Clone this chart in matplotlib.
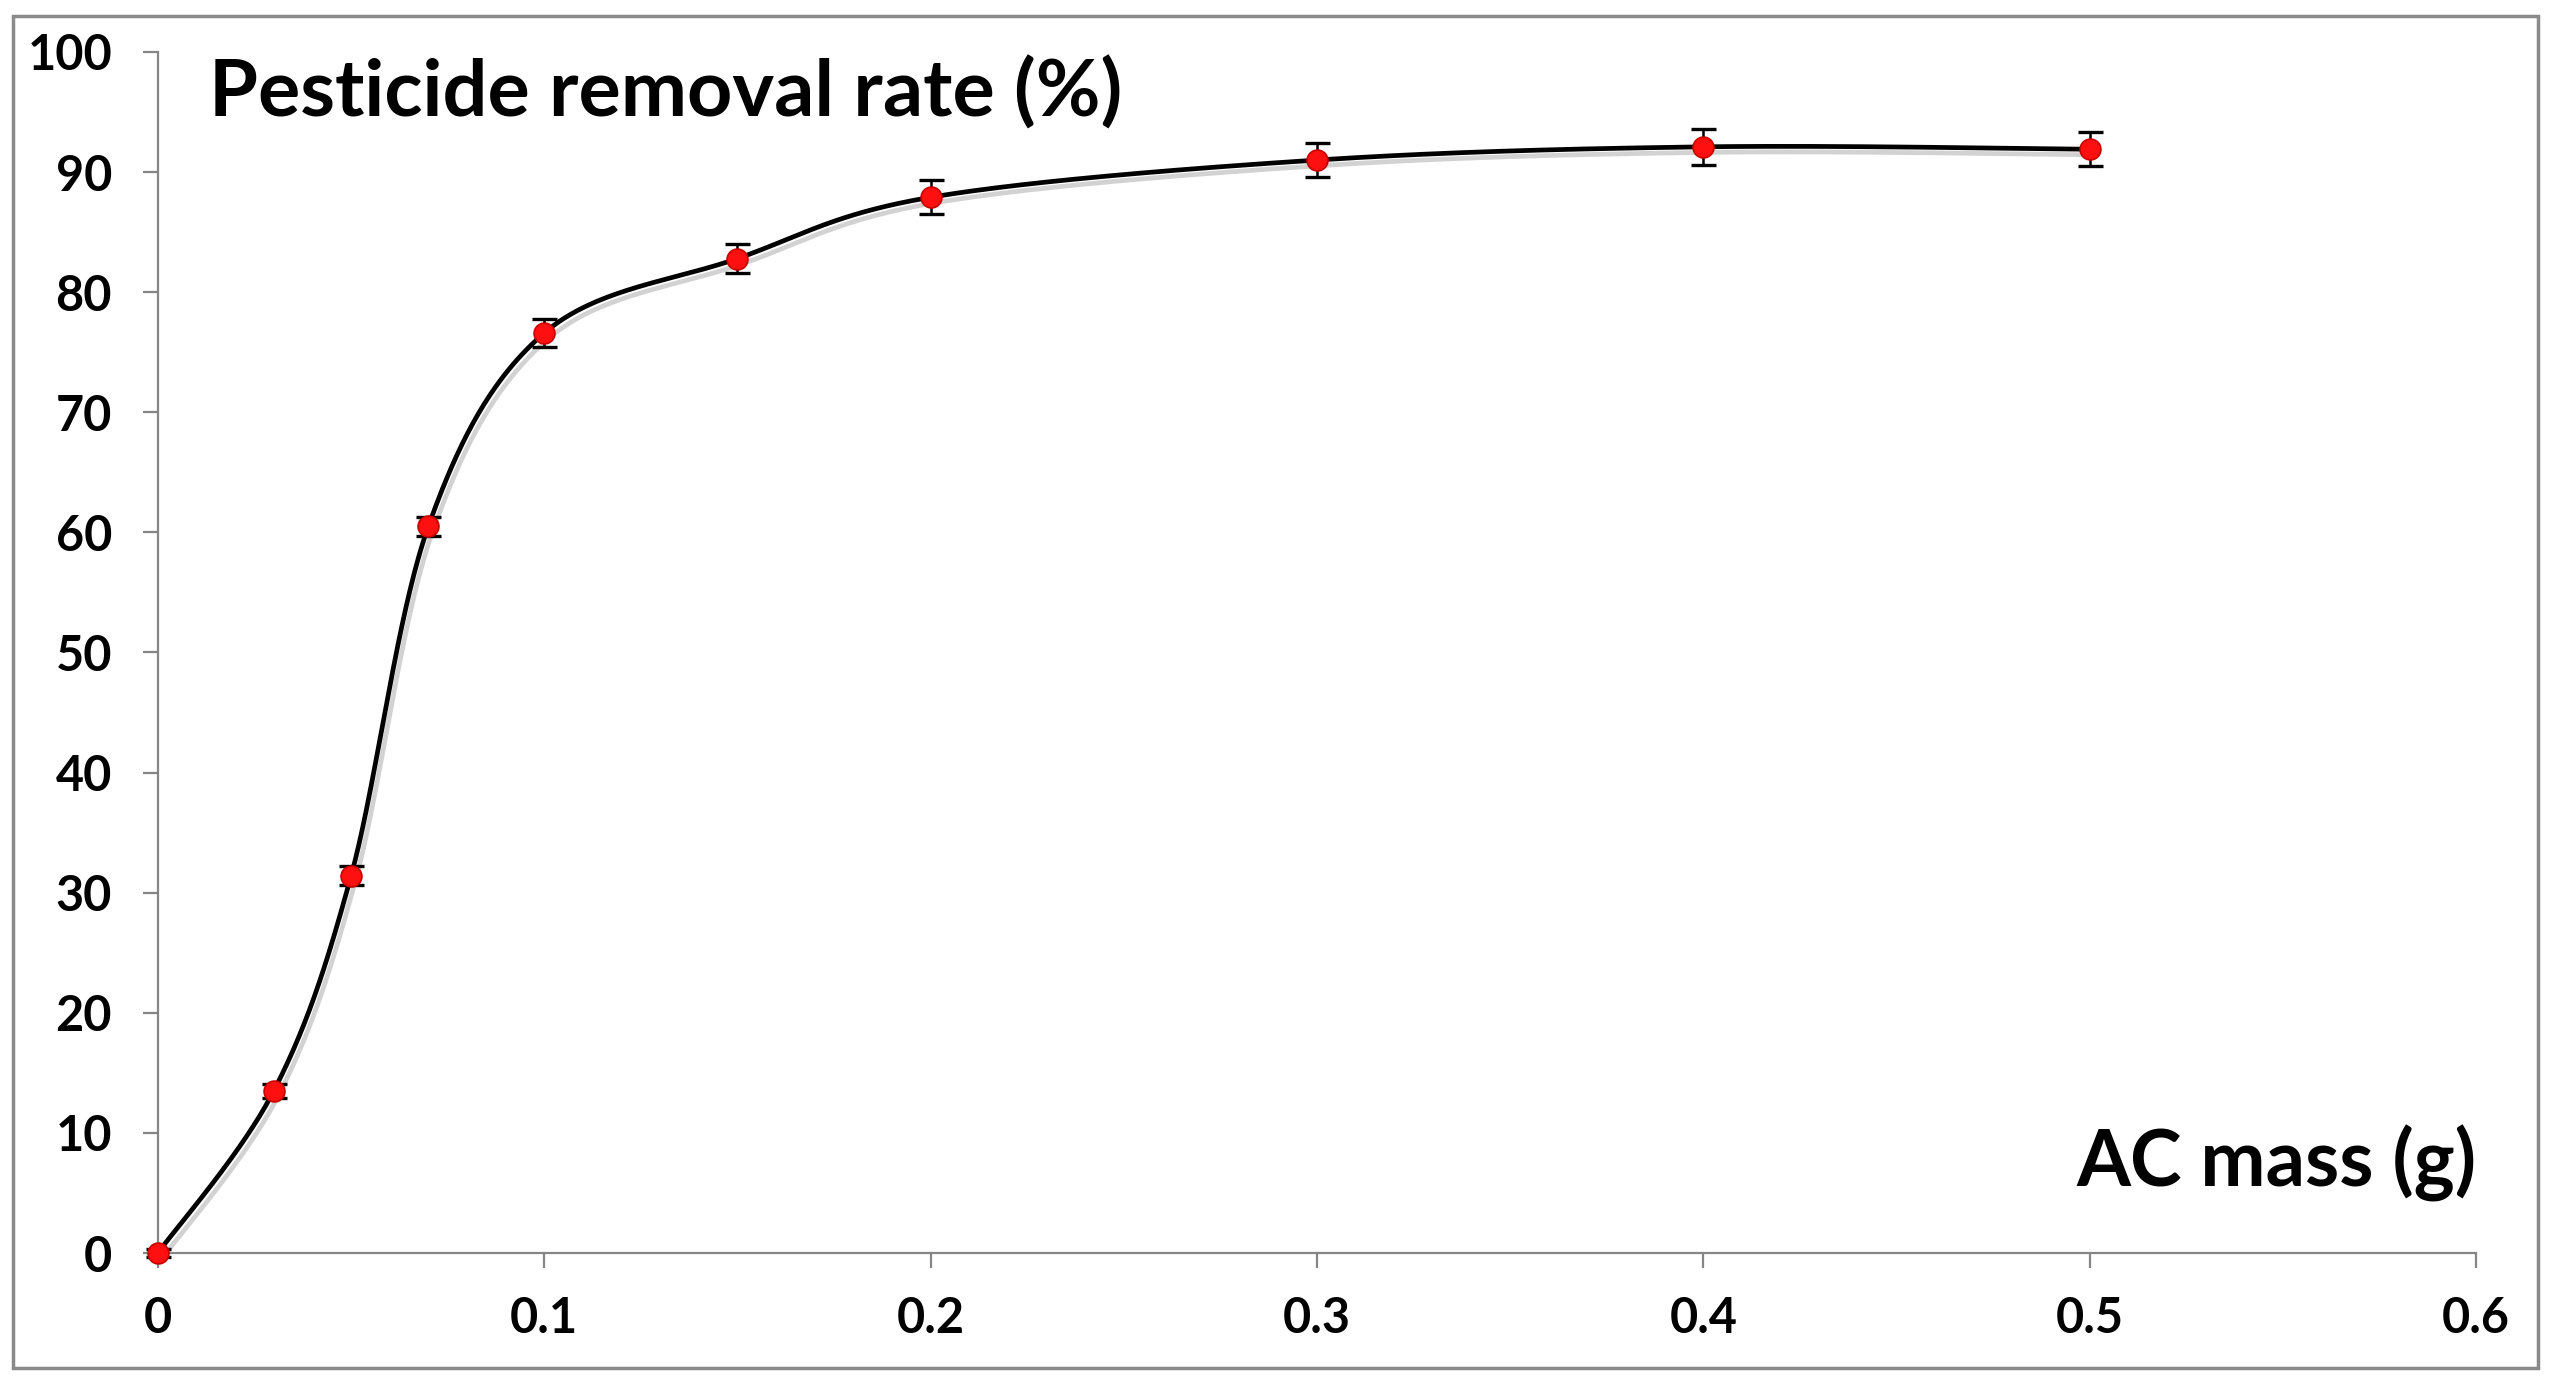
import numpy as np
import matplotlib.pyplot as plt
import matplotlib.patheffects as pe
from matplotlib.patches import Rectangle

plt.rcParams['font.family'] = ['Lato', 'DejaVu Sans']
plt.rcParams['font.weight'] = 'bold'

# données
ac_mass = [0, 0.03, 0.05, 0.07, 0.1, 0.15, 0.2, 0.3, 0.4, 0.5]
removal = [0, 13.5, 31.4, 60.5, 76.6, 82.8, 87.9, 91.0, 92.1, 91.9]
erreur = [0.3, 0.6, 0.8, 0.8, 1.2, 1.2, 1.4, 1.4, 1.5, 1.4]

x_ticks = [0, 0.1, 0.2, 0.3, 0.4, 0.5, 0.6]
x_labels = ['0', '0.1', '0.2', '0.3', '0.4', '0.5', '0.6']
y_ticks = list(range(0, 101, 10))


def lissage_excel(x, y, sx, sy, n=60):
    # courbe lissée façon Excel (Bezier / Catmull-Rom) dans l'espace écran
    p = np.column_stack([np.asarray(x) * sx, np.asarray(y) * sy])
    p = np.vstack([p[0], p, p[-1]])
    t = np.linspace(0, 1, n)[:, None]
    pts = []
    for i in range(1, len(p) - 2):
        p0, p1, p2, p3 = p[i - 1], p[i], p[i + 1], p[i + 2]
        c1 = p1 + (p2 - p0) / 6
        c2 = p2 - (p3 - p1) / 6
        seg = ((1 - t) ** 3) * p1 + 3 * ((1 - t) ** 2) * t * c1 + 3 * (1 - t) * t ** 2 * c2 + t ** 3 * p2
        pts.append(seg)
    pts = np.vstack(pts)
    return pts[:, 0] / sx, pts[:, 1] / sy


fig = plt.figure(figsize=(25.59, 13.89), dpi=100)
ax = fig.add_axes([0.0617, 0.0979, 0.9059, 0.8647])

xs, ys = lissage_excel(ac_mass, removal, 3863, 12.01)
ax.plot(xs, ys, color='black', lw=3.4, zorder=2, clip_on=False,
        path_effects=[pe.SimpleLineShadow(offset=(3, -4), shadow_color='gray', alpha=0.35),
                      pe.Normal()])

ax.errorbar(ac_mass, removal, yerr=erreur, fmt='none', ecolor='black',
            elinewidth=1.8, capsize=9, capthick=2.4, zorder=3, clip_on=False)
ax.plot(ac_mass, removal, 'o', color='#ff1010', markeredgecolor='#c80000',
        markersize=15, markeredgewidth=1.2, zorder=4, clip_on=False)

ax.set_xlim(0, 0.6)
ax.set_ylim(0, 100)
ax.set_xticks(x_ticks)
ax.set_xticklabels(x_labels)
ax.set_yticks(y_ticks)

for s in ['top', 'right']:
    ax.spines[s].set_visible(False)
for s in ['left', 'bottom']:
    ax.spines[s].set_color('#868686')
    ax.spines[s].set_linewidth(1.6)
    ax.spines[s].set_zorder(1)

ax.tick_params(axis='both', direction='out', length=11, width=1.6, color='#868686',
               labelsize=35)
ax.tick_params(axis='y', pad=22)
ax.tick_params(axis='x', pad=20)
for lab in ax.get_xticklabels() + ax.get_yticklabels():
    lab.set_fontweight('bold')

fig.text(209 / 2559, 0.9158, 'Pesticide removal rate (%)', fontsize=57,
         fontweight='bold', ha='left', va='baseline')
fig.text(0.9676, 0.1455, 'AC mass (g)', fontsize=56, fontweight='bold',
         ha='right', va='baseline')

# cadre gris autour du graphique
fig.patches.append(Rectangle((0.0051, 0.0151), 0.9867, 0.9734, transform=fig.transFigure,
                             fill=False, edgecolor='#8a8a8a', lw=2.5))

fig.savefig('out.png', dpi=100, facecolor='white')
